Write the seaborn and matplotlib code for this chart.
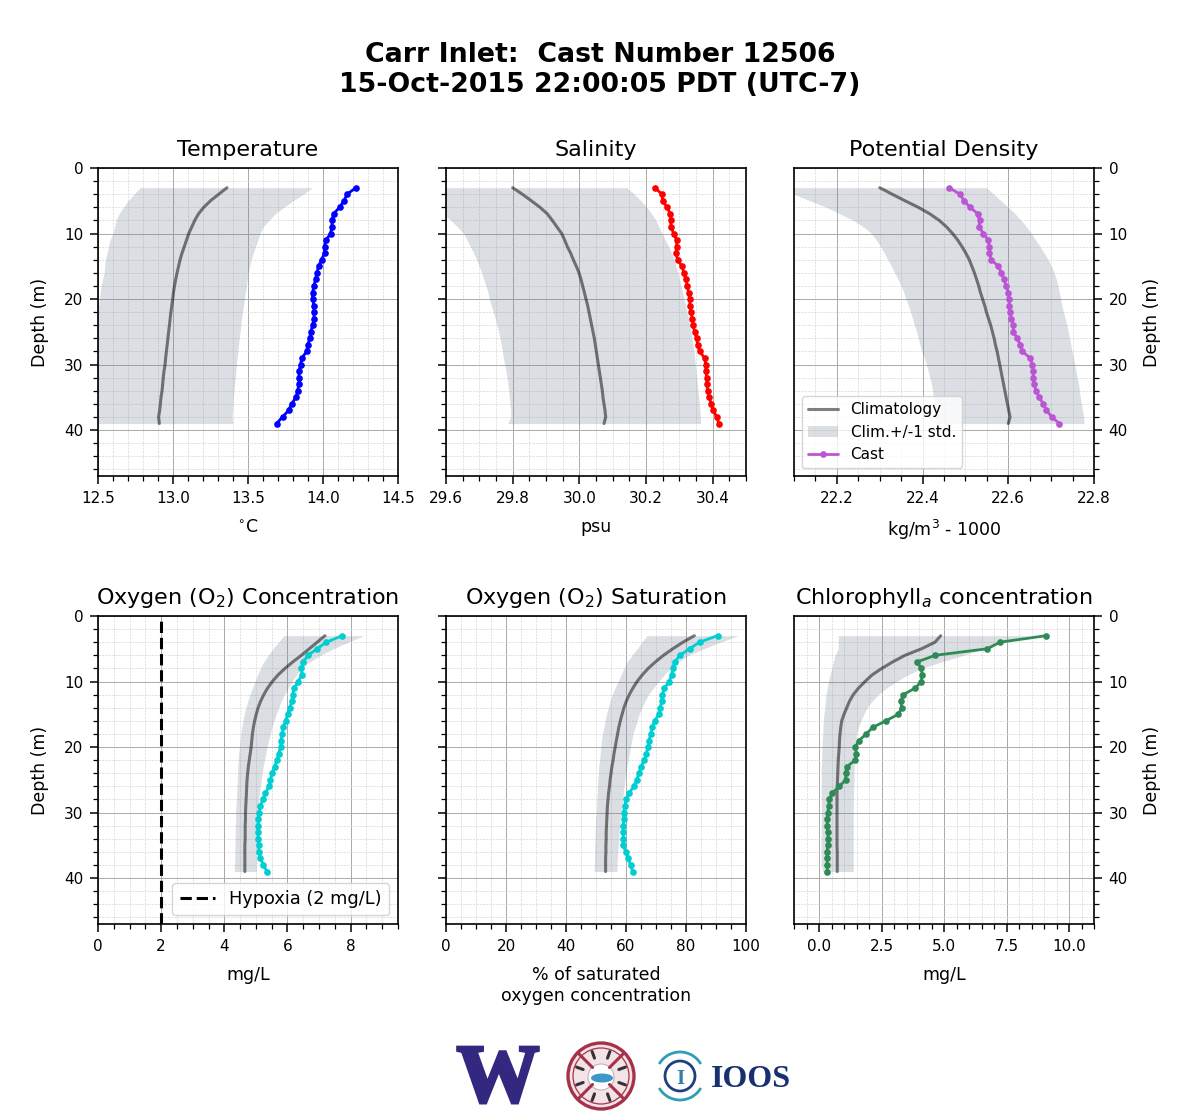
"""Cast profiles against climatology for one CTD cast."""

import matplotlib.patheffects as pe
import matplotlib.pyplot as plt
import numpy as np
import seaborn as sns
from matplotlib.patches import Arc, Circle, Ellipse
from matplotlib.ticker import MultipleLocator

depth = list(range(3, 40))

temp_cast = [14.22, 14.16, 14.14, 14.11, 14.07, 14.06, 14.06, 14.05, 14.02, 14.01, 14.01, 13.99, 13.97,
             13.96, 13.95, 13.94, 13.93, 13.93, 13.94, 13.94, 13.94, 13.93, 13.92, 13.91, 13.90, 13.89,
             13.86, 13.85, 13.84, 13.84, 13.84, 13.83, 13.82, 13.79, 13.77, 13.73, 13.69]
temp_clim = [13.36, 13.305, 13.25, 13.205, 13.17, 13.145, 13.125, 13.105, 13.09, 13.075, 13.06, 13.047,
             13.037, 13.027, 13.018, 13.01, 13.003, 12.998, 12.992, 12.986, 12.981, 12.976, 12.971, 12.966,
             12.961, 12.956, 12.951, 12.947, 12.94, 12.935, 12.931, 12.927, 12.92, 12.916, 12.911, 12.904,
             12.909]
temp_lo = [12.78, 12.74, 12.70, 12.67, 12.64, 12.62, 12.61, 12.60, 12.58, 12.57, 12.56, 12.55, 12.545,
           12.54, 12.53, 12.52, 12.515, 12.51, 12.505, 12.50, 12.49, 12.49, 12.48, 12.48, 12.47, 12.47,
           12.46, 12.46, 12.45, 12.45, 12.44, 12.44, 12.43, 12.43, 12.42, 12.42, 12.42]
temp_hi = [13.93, 13.87, 13.80, 13.74, 13.68, 13.64, 13.60, 13.58, 13.565, 13.55, 13.535, 13.52, 13.51,
           13.50, 13.495, 13.49, 13.483, 13.476, 13.47, 13.463, 13.457, 13.452, 13.447, 13.442, 13.437,
           13.432, 13.427, 13.423, 13.419, 13.415, 13.411, 13.407, 13.403, 13.40, 13.397, 13.393, 13.40]

sal_cast = [30.226, 30.248, 30.25, 30.263, 30.273, 30.274, 30.275, 30.283, 30.292, 30.292, 30.29, 30.295,
            30.308, 30.314, 30.319, 30.324, 30.328, 30.331, 30.332, 30.335, 30.339, 30.341, 30.346, 30.352,
            30.355, 30.361, 30.376, 30.379, 30.38, 30.382, 30.383, 30.385, 30.39, 30.396, 30.402, 30.412,
            30.419]
sal_clim = [29.80, 29.829, 29.856, 29.882, 29.904, 29.919, 29.933, 29.947, 29.956, 29.964, 29.974, 29.982,
            29.991, 29.999, 30.005, 30.01, 30.015, 30.02, 30.025, 30.029, 30.033, 30.037, 30.041, 30.045,
            30.048, 30.051, 30.054, 30.057, 30.06, 30.063, 30.066, 30.069, 30.071, 30.074, 30.077, 30.079,
            30.074]
sal_lo = [29.50, 29.53, 29.55, 29.57, 29.59, 29.615, 29.635, 29.653, 29.663, 29.673, 29.683, 29.692,
          29.70, 29.707, 29.713, 29.72, 29.726, 29.73, 29.736, 29.742, 29.748, 29.753, 29.758, 29.762,
          29.766, 29.769, 29.772, 29.776, 29.78, 29.783, 29.786, 29.788, 29.79, 29.792, 29.794, 29.794,
          29.785]
sal_hi = [30.143, 30.165, 30.185, 30.203, 30.217, 30.23, 30.239, 30.248, 30.258, 30.268, 30.277, 30.285,
          30.29, 30.296, 30.30, 30.305, 30.31, 30.314, 30.319, 30.323, 30.328, 30.332, 30.335, 30.338,
          30.341, 30.344, 30.346, 30.348, 30.35, 30.352, 30.354, 30.356, 30.358, 30.36, 30.362, 30.363,
          30.364]

dens_cast = [22.462, 22.487, 22.497, 22.511, 22.529, 22.533, 22.532, 22.542, 22.553, 22.556, 22.556, 22.56,
             22.577, 22.584, 22.59, 22.595, 22.60, 22.602, 22.602, 22.605, 22.607, 22.612, 22.612, 22.621,
             22.628, 22.633, 22.651, 22.656, 22.658, 22.658, 22.66, 22.665, 22.672, 22.682, 22.689, 22.702,
             22.719]
dens_clim = [22.30, 22.329, 22.359, 22.39, 22.417, 22.439, 22.456, 22.47, 22.482, 22.492, 22.501, 22.509,
             22.515, 22.521, 22.526, 22.531, 22.535, 22.54, 22.545, 22.549, 22.554, 22.559, 22.563, 22.567,
             22.57, 22.574, 22.577, 22.58, 22.583, 22.586, 22.589, 22.592, 22.595, 22.598, 22.601, 22.604,
             22.60]
dens_lo = [22.05, 22.10, 22.137, 22.176, 22.207, 22.238, 22.262, 22.281, 22.292, 22.302, 22.311, 22.319,
           22.327, 22.335, 22.343, 22.35, 22.356, 22.361, 22.367, 22.372, 22.377, 22.381, 22.386, 22.39,
           22.394, 22.398, 22.404, 22.409, 22.413, 22.417, 22.421, 22.423, 22.425, 22.427, 22.429, 22.43,
           22.43]
dens_hi = [22.549, 22.566, 22.583, 22.60, 22.616, 22.63, 22.643, 22.654, 22.664, 22.674, 22.684, 22.693,
           22.701, 22.707, 22.712, 22.716, 22.719, 22.722, 22.725, 22.729, 22.733, 22.737, 22.74, 22.743,
           22.746, 22.749, 22.752, 22.755, 22.758, 22.761, 22.764, 22.766, 22.768, 22.771, 22.773, 22.776,
           22.777]

oxy_cast = [7.74, 7.23, 6.94, 6.65, 6.50, 6.44, 6.46, 6.33, 6.22, 6.16, 6.14, 6.07, 6.01, 5.94, 5.86, 5.83,
            5.80, 5.78, 5.72, 5.67, 5.59, 5.51, 5.46, 5.42, 5.30, 5.22, 5.14, 5.10, 5.08, 5.07, 5.06, 5.08,
            5.09, 5.09, 5.14, 5.24, 5.35]
oxy_clim = [7.19, 6.94, 6.69, 6.44, 6.17, 5.92, 5.70, 5.52, 5.37, 5.25, 5.15, 5.07, 5.01, 4.96, 4.92, 4.89,
            4.87, 4.85, 4.82, 4.79, 4.76, 4.74, 4.72, 4.71, 4.70, 4.69, 4.68, 4.67, 4.67, 4.66, 4.66, 4.66,
            4.65, 4.65, 4.65, 4.65, 4.65]
oxy_lo = [5.88, 5.72, 5.54, 5.39, 5.25, 5.14, 5.05, 4.98, 4.89, 4.81, 4.74, 4.68, 4.63, 4.59, 4.55, 4.52,
          4.50, 4.48, 4.45, 4.44, 4.43, 4.42, 4.41, 4.40, 4.39, 4.38, 4.37, 4.36, 4.36, 4.35, 4.35, 4.34,
          4.34, 4.33, 4.33, 4.32, 4.32]
oxy_hi = [8.42, 7.92, 7.45, 7.05, 6.70, 6.45, 6.28, 6.15, 6.02, 5.90, 5.80, 5.72, 5.64, 5.57, 5.51, 5.46,
          5.40, 5.35, 5.31, 5.27, 5.23, 5.20, 5.17, 5.14, 5.11, 5.09, 5.07, 5.06, 5.05, 5.04, 5.04, 5.03,
          5.02, 5.02, 5.01, 5.01, 5.01]

sat_cast = [90.5, 84.5, 81.2, 77.9, 76.3, 75.5, 75.3, 74.4, 72.8, 72.1, 71.9, 71.4, 71.0, 69.5, 68.8, 68.2,
            67.7, 67.3, 66.8, 66.1, 65.0, 64.3, 63.6, 62.6, 61.1, 60.1, 59.5, 59.2, 59.2, 59.1, 59.1, 59.1,
            59.1, 59.9, 60.6, 61.6, 62.2]
sat_clim = [82.8, 79.0, 75.6, 72.5, 69.8, 67.4, 65.4, 63.7, 62.3, 61.1, 60.1, 59.3, 58.7, 58.1, 57.6, 57.2,
            56.8, 56.4, 56.0, 55.7, 55.3, 55.0, 54.7, 54.5, 54.2, 54.0, 53.8, 53.7, 53.6, 53.5, 53.4, 53.4,
            53.3, 53.3, 53.2, 53.2, 53.2]
sat_lo = [67.0, 65.3, 63.7, 62.0, 60.4, 59.3, 58.3, 57.4, 56.3, 55.4, 54.7, 54.0, 53.5, 53.0, 52.6, 52.2,
          51.8, 51.6, 51.4, 51.2, 50.9, 50.8, 50.6, 50.5, 50.4, 50.3, 50.2, 50.1, 49.9, 49.8, 49.7, 49.7,
          49.6, 49.5, 49.5, 49.4, 49.4]
sat_hi = [97.5, 91.4, 86.0, 80.8, 77.5, 74.8, 72.7, 70.9, 69.1, 67.5, 66.3, 65.3, 64.4, 63.7, 63.0, 62.3,
          61.9, 61.5, 61.1, 60.7, 60.3, 59.9, 59.6, 59.4, 59.1, 58.9, 58.6, 58.3, 58.1, 57.9, 57.7, 57.6,
          57.4, 57.3, 57.1, 57.0, 57.0]

chl_cast = [9.09, 7.24, 6.73, 4.65, 3.93, 4.09, 4.13, 4.09, 3.85, 3.37, 3.27, 3.31, 3.17, 2.67, 2.15, 1.89,
            1.60, 1.45, 1.49, 1.45, 1.11, 1.07, 1.07, 0.81, 0.53, 0.41, 0.39, 0.35, 0.33, 0.33, 0.35, 0.37,
            0.36, 0.31, 0.33, 0.33, 0.33]
chl_clim = [4.87, 4.64, 4.10, 3.44, 2.95, 2.51, 2.12, 1.84, 1.58, 1.37, 1.22, 1.11, 1.00, 0.91, 0.87, 0.84,
            0.82, 0.81, 0.79, 0.77, 0.76, 0.75, 0.74, 0.73, 0.72, 0.72, 0.72, 0.72, 0.72, 0.72, 0.72, 0.72,
            0.72, 0.73, 0.73, 0.73, 0.73]
chl_lo = [0.77, 0.77, 0.77, 0.64, 0.57, 0.51, 0.44, 0.37, 0.33, 0.28, 0.25, 0.23, 0.20, 0.17, 0.16, 0.15,
          0.13, 0.12, 0.11, 0.11, 0.09, 0.09, 0.09, 0.09, 0.09, 0.09, 0.09, 0.09, 0.09, 0.09, 0.09, 0.08,
          0.08, 0.08, 0.08, 0.09, 0.15]
chl_hi = [8.44, 7.37, 6.55, 5.77, 4.90, 4.10, 3.55, 3.10, 2.70, 2.37, 2.12, 1.93, 1.79, 1.67, 1.58, 1.51,
          1.47, 1.44, 1.43, 1.42, 1.41, 1.40, 1.40, 1.39, 1.38, 1.38, 1.37, 1.37, 1.37, 1.37, 1.37, 1.37,
          1.37, 1.37, 1.37, 1.37, 1.37]

hypoxia_level = 2

panels = [
    ("Temperature", "$^{\\circ}$C", temp_cast, temp_clim, temp_lo, temp_hi, "blue", (12.5, 14.5), 0.5, 0.1),
    ("Salinity", "psu", sal_cast, sal_clim, sal_lo, sal_hi, "red", (29.6, 30.5), 0.2, 0.05),
    ("Potential Density", "kg/m$^3$ - 1000", dens_cast, dens_clim, dens_lo, dens_hi, "mediumorchid",
     (22.1, 22.8), 0.2, 0.05),
    ("Oxygen (O$_2$) Concentration", "mg/L", oxy_cast, oxy_clim, oxy_lo, oxy_hi, "darkturquoise",
     (0, 9.5), 2, 0.5),
    ("Oxygen (O$_2$) Saturation", "% of saturated\noxygen concentration", sat_cast, sat_clim, sat_lo, sat_hi,
     "darkturquoise", (0, 100), 20, 5),
    ("Chlorophyll$_a$ concentration", "mg/L", chl_cast, chl_clim, chl_lo, chl_hi, "seagreen", (-1, 11), 2.5, 0.5),
]

sns.set_style("ticks", rc={
    "axes.edgecolor": "black", "axes.labelcolor": "black", "text.color": "black",
    "xtick.color": "black", "ytick.color": "black",
})
plt.rcParams["font.family"] = ["DejaVu Sans"]


def draw_panel(ax, title, xlabel, cast, clim, lo, hi, color, xlim, major, minor):
    sns.lineplot(x=clim, y=depth, ax=ax, orient="y", sort=False, estimator=None, color="black", alpha=0.5,
                 linewidth=2.2, label="Climatology", legend=False)
    ax.fill_betweenx(depth, lo, hi, color="slategray", alpha=0.25, linewidth=0, label="Clim.+/-1 std.")
    sns.lineplot(x=cast, y=depth, ax=ax, orient="y", sort=False, estimator=None, color=color, linewidth=2.0,
                 marker="o", markersize=4.8, markeredgewidth=0, label="Cast", legend=False)
    ax.set_xlim(*xlim)
    ax.set_ylim(47, 0)
    ax.xaxis.set_major_locator(MultipleLocator(major))
    ax.xaxis.set_minor_locator(MultipleLocator(minor))
    ax.yaxis.set_major_locator(MultipleLocator(10))
    ax.yaxis.set_minor_locator(MultipleLocator(2))
    ax.grid(which="major", color="darkgray", linewidth=0.7)
    ax.grid(which="minor", color="lightgray", linewidth=0.45, linestyle="--")
    ax.set_axisbelow(True)
    ax.tick_params(which="major", length=6, width=1.1, labelsize=11, pad=4.5)
    ax.tick_params(which="minor", length=3.5, width=0.9)
    ax.set_title(title, fontsize=16, pad=8.7)
    ax.set_xlabel(xlabel, fontsize=12.5, labelpad=9)
    for spine in ax.spines.values():
        spine.set_linewidth(1.2)
        spine.set_visible(True)


def draw_logos(fig):
    ax = fig.add_axes([0, 0, 1, 1], zorder=-1)
    ax.set_xlim(0, 1200)
    ax.set_ylim(1120, 0)
    ax.axis("off")
    ax.text(498, 1101.5, "W", family="Liberation Serif", fontweight="bold", fontsize=59.5, color="#32287f",
            ha="center", va="baseline",
            path_effects=[pe.withStroke(linewidth=2.5, foreground="#32287f", joinstyle="miter")])
    ax.add_patch(Circle((601, 1076), 33, facecolor="#f3e3e6", edgecolor="#a5324a", linewidth=2.4))
    ax.add_patch(Circle((601, 1076), 28, facecolor="none", edgecolor="#a5324a", linewidth=0.9))
    for angle in np.deg2rad([45, 135, 225, 315]):
        ax.plot([601 + 12 * np.cos(angle), 601 + 32 * np.cos(angle)],
                [1076 + 12 * np.sin(angle), 1076 + 32 * np.sin(angle)], color="#a5324a", linewidth=2.2)
    for angle in np.deg2rad([20, 70, 110, 160, 200, 250, 290, 340]):
        ax.plot([601 + 19 * np.cos(angle), 601 + 26 * np.cos(angle)],
                [1076 + 19 * np.sin(angle), 1076 + 26 * np.sin(angle)], color="#333333", linewidth=2.2)
    ax.add_patch(Circle((601, 1077), 13, facecolor="white", edgecolor="#b8b8b8", linewidth=0.8))
    ax.add_patch(Ellipse((602, 1078), 22, 9, facecolor="#3f97c9", linewidth=0))
    ax.add_patch(Arc((680, 1076), 48, 48, theta1=30, theta2=150, color="#2f9fb4", linewidth=2))
    ax.add_patch(Arc((680, 1076), 48, 48, theta1=210, theta2=330, color="#2f9fb4", linewidth=2))
    ax.add_patch(Circle((680, 1076), 15, facecolor="none", edgecolor="#1f3f80", linewidth=2))
    ax.text(680, 1076, "I", family="Liberation Serif", fontweight="bold", fontsize=15, color="#2f7fa8",
            ha="center", va="center_baseline")
    ax.text(751, 1076, "IOOS", family="Liberation Serif", fontweight="bold", fontsize=23, color="#17306f",
            ha="center", va="center_baseline")


def main():
    fig, axes = plt.subplots(2, 3, figsize=(12, 11.2), dpi=100, sharey=False)
    fig.subplots_adjust(left=98 / 1200, right=1094 / 1200, top=1 - 168 / 1120, bottom=1 - 924 / 1120,
                        wspace=48 / 300, hspace=140 / 308)
    for ax, panel in zip(axes.flat, panels):
        draw_panel(ax, *panel)

    for row in axes:
        row[0].set_ylabel("Depth (m)", fontsize=12.5, labelpad=11)
        row[1].set_ylabel("")
        row[1].tick_params(which="both", labelleft=False)
        row[2].yaxis.tick_right()
        row[2].yaxis.set_label_position("right")
        row[2].set_ylabel("Depth (m)", fontsize=12.5, labelpad=11)

    axes[0, 2].legend(loc="lower left", fontsize=11, bbox_to_anchor=(0.0, 0.0), borderaxespad=0.5)
    hypoxia = axes[1, 0].axvline(hypoxia_level, color="black", linestyle="--", linewidth=2.2,
                                 label="Hypoxia (2 mg/L)")
    axes[1, 0].legend(handles=[hypoxia], loc="lower right", fontsize=12.8, bbox_to_anchor=(1.0, 0.0),
                      borderaxespad=0.5)

    fig.suptitle("Carr Inlet:  Cast Number 12506\n15-Oct-2015 22:00:05 PDT (UTC-7)", fontsize=19.25,
                 fontweight="bold", y=1 - 42 / 1120, va="top")
    draw_logos(fig)
    fig.savefig("out.png", dpi=100)


if __name__ == "__main__":
    main()
